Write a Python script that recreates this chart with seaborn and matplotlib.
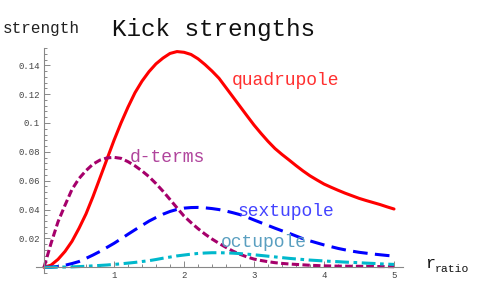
import matplotlib
matplotlib.use("Agg")
import matplotlib.pyplot as plt
import seaborn as sns
import pandas as pd
from matplotlib.ticker import MultipleLocator, FormatStrFormatter

# values, r_ratio from 0 to 5 in steps of 0.1
r_ratio = [i / 10 for i in range(51)]
quadrupole = [0, 0.0015, 0.0055, 0.011, 0.018, 0.027, 0.037, 0.049, 0.062, 0.075,
              0.088, 0.100, 0.111, 0.121, 0.129, 0.1356, 0.141, 0.145, 0.1482, 0.1495,
              0.149, 0.1475, 0.1445, 0.1405, 0.136, 0.131, 0.1245, 0.118, 0.1115, 0.105,
              0.0986, 0.0928, 0.0873, 0.0823, 0.0782, 0.0744, 0.0705, 0.0668, 0.0634, 0.0605,
              0.0577, 0.0555, 0.0534, 0.0514, 0.0496, 0.0478, 0.0463, 0.0449, 0.0435, 0.0419,
              0.0404]
d_terms = [0, 0.0165, 0.0315, 0.043, 0.054, 0.0615, 0.067, 0.0715, 0.0743, 0.0758,
           0.0762, 0.0755, 0.0732, 0.0703, 0.0668, 0.0628, 0.058, 0.0527, 0.047, 0.0412,
           0.0355, 0.031, 0.0268, 0.023, 0.0196, 0.0166, 0.0138, 0.0112, 0.009, 0.0072,
           0.0057, 0.0047, 0.0039, 0.0032, 0.0027, 0.0023, 0.002, 0.0017, 0.0014, 0.0012,
           0.001, 0.0009, 0.0008, 0.0008, 0.0007, 0.0007, 0.0006, 0.0006, 0.0005, 0.0005,
           0.0004]
sextupole = [0, 0.0001, 0.0006, 0.0014, 0.0026, 0.004, 0.0062, 0.0085, 0.011, 0.0138,
             0.0166, 0.0197, 0.0229, 0.026, 0.029, 0.032, 0.0345, 0.0368, 0.0387, 0.0401,
             0.041, 0.0414, 0.0415, 0.0412, 0.0407, 0.04, 0.039, 0.0378, 0.0365, 0.0348,
             0.0328, 0.0309, 0.029, 0.0271, 0.0253, 0.0236, 0.0217, 0.0198, 0.0183, 0.0169,
             0.0155, 0.0143, 0.0131, 0.0121, 0.0112, 0.0104, 0.0098, 0.0092, 0.0087, 0.0082,
             0.0078]
octupole = [0, 0, 0.0001, 0.0002, 0.0003, 0.0005, 0.0007, 0.001, 0.0013, 0.0016,
            0.002, 0.0024, 0.0029, 0.0034, 0.004, 0.0046, 0.0054, 0.0063, 0.0071, 0.0079,
            0.0085, 0.0091, 0.0096, 0.0099, 0.0101, 0.0101, 0.01, 0.0098, 0.0095, 0.0091,
            0.0087, 0.0082, 0.0077, 0.0072, 0.0067, 0.0062, 0.0058, 0.0054, 0.005, 0.0047,
            0.0044, 0.0041, 0.0039, 0.0036, 0.0034, 0.0032, 0.0029, 0.0027, 0.0024, 0.0022,
            0.002]

series = {"quadrupole": quadrupole, "d-terms": d_terms,
          "sextupole": sextupole, "octupole": octupole}
df = pd.concat([pd.DataFrame({"r": r_ratio, "strength": v, "term": k})
                for k, v in series.items()], ignore_index=True)

line_colors = {"quadrupole": "#ff0000", "d-terms": "#a6006b",
               "sextupole": "#0000ff", "octupole": "#00b8cc"}
line_dashes = {"quadrupole": "", "d-terms": (2.4, 1.1),
               "sextupole": (4.8, 2.4), "octupole": (4.5, 1.5, 1.2, 1.5)}

sns.set_style("white")
plt.rcParams["font.family"] = ["Liberation Mono", "DejaVu Sans Mono"]

W, H = 486, 300
fig = plt.figure(figsize=(W / 100, H / 100), dpi=100)

# pixel geometry of the reference plot area
x0, xs = 44, 70.0
y0, ys = 267.3, 1443.0
xmin, xmax = -0.12, 5.13
ymin, ymax = -0.004, 0.152
left = (x0 + xmin * xs) / W
bottom = (H - (y0 - ymin * ys)) / H
ax = fig.add_axes([left, bottom, (xmax - xmin) * xs / W, (ymax - ymin) * ys / H])

sns.lineplot(data=df, x="r", y="strength", hue="term", style="term",
             palette=line_colors, dashes=line_dashes, linewidth=2.2,
             legend=False, ax=ax)

ax.set_xlim(xmin, xmax)
ax.set_ylim(ymin, ymax)
for s in ["top", "right"]:
    ax.spines[s].set_visible(False)
for s in ["left", "bottom"]:
    ax.spines[s].set_position(("data", 0))
    ax.spines[s].set_color("#888888")
    ax.spines[s].set_linewidth(0.8)

ax.xaxis.set_minor_locator(MultipleLocator(0.2))
ax.yaxis.set_minor_locator(MultipleLocator(0.004))
ax.yaxis.set_major_formatter(FormatStrFormatter("%g"))
ax.set_xticks([1, 2, 3, 4, 5])
ax.set_yticks([0.02, 0.04, 0.06, 0.08, 0.1, 0.12, 0.14])
ax.tick_params(which="both", direction="in", color="#888888", width=0.7,
               labelsize=6.5, labelcolor="#444444", pad=3)
ax.tick_params(which="major", length=4)
ax.tick_params(which="minor", length=2)
ax.tick_params(axis="both", which="both", left=True, bottom=True)
ax.set_xlabel("")
ax.set_ylabel("")


def px(x, y):
    return x / W, 1 - y / H


fig.text(*px(3, 33), "strength", fontsize=11.5, color="#222222", va="baseline")
fig.text(*px(112, 36), "Kick strengths", fontsize=17.5, color="#111111", va="baseline")
fig.text(*px(425, 268), "r", fontsize=12, color="#111111", va="baseline")
fig.text(*px(435, 272), "ratio", fontsize=8.2, color="#111111", va="baseline")

fig.text(*px(232, 85), "quadrupole", fontsize=13, color="#ff3030", va="baseline")
fig.text(*px(130, 161.5), "d-terms", fontsize=13, color="#b0449c", va="baseline")
fig.text(*px(237.5, 216.5), "sextupole", fontsize=13, color="#4444ff", va="baseline")
fig.text(*px(221, 247), "octupole", fontsize=13, color="#5a9fc0", va="baseline")

fig.savefig("out.png", dpi=100)
